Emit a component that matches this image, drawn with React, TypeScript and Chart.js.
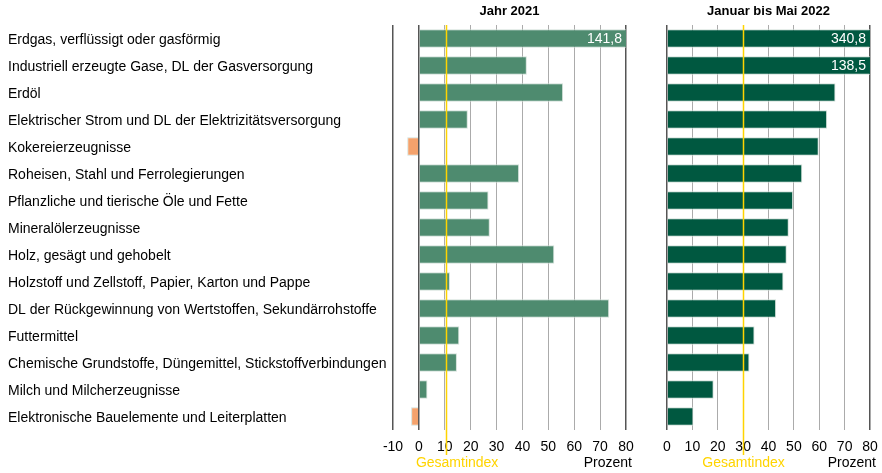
import React, { useEffect, useRef } from "react";
import { Chart, registerables } from "chart.js";

Chart.register(...registerables);

const categories: string[] = [
  "Erdgas, verflüssigt oder gasförmig",
  "Industriell erzeugte Gase, DL der Gasversorgung",
  "Erdöl",
  "Elektrischer Strom und DL der Elektrizitätsversorgung",
  "Kokereierzeugnisse",
  "Roheisen, Stahl und Ferrolegierungen",
  "Pflanzliche und tierische Öle und Fette",
  "Mineralölerzeugnisse",
  "Holz, gesägt und gehobelt",
  "Holzstoff und Zellstoff, Papier, Karton und Pappe",
  "DL der Rückgewinnung von Wertstoffen, Sekundärrohstoffe",
  "Futtermittel",
  "Chemische Grundstoffe, Düngemittel, Stickstoffverbindungen",
  "Milch und Milcherzeugnisse",
  "Elektronische Bauelemente und Leiterplatten",
];

const values2021: number[] = [141.8, 41.7, 55.7, 18.9, -4.5, 38.7, 26.9, 27.4, 52.3, 12.0, 73.5, 15.6, 14.7, 3.3, -3.0];
const values2022: number[] = [340.8, 138.5, 66.4, 63.1, 59.8, 53.3, 49.7, 48.0, 47.2, 45.9, 43.0, 34.5, 32.5, 18.4, 10.4];

const gesamt2021 = 10.4;
const gesamt2022 = 29.8;

const title2021 = "Jahr 2021";
const title2022 = "Januar bis Mai 2022";
const gesamtLabel = "Gesamtindex";
const unitLabel = "Prozent";

const left2021 = -10;
const max2021 = 80;
const left2022 = 0;
const max2022 = 80;
const tickStep = 10;

const FONT = '"Liberation Sans", Arial, sans-serif';
const YELLOW = "#FFD400";

function fmt(v: number): string {
  return v.toFixed(1).replace(".", ",");
}

function makeOverlay(id: string, title: string, gesamt: number, max: number, leftLabelMode: boolean) {
  return {
    id,
    afterDatasetsDraw(chart: any) {
      const ctx = chart.ctx;
      const area = chart.chartArea;
      const xs = chart.scales.x;
      ctx.save();
      const gx = Math.round(xs.getPixelForValue(gesamt)) + 0.5;
      ctx.strokeStyle = YELLOW;
      ctx.lineWidth = 1.5;
      ctx.beginPath();
      ctx.moveTo(gx, area.top);
      ctx.lineTo(gx, area.bottom + 25);
      ctx.stroke();
      ctx.fillStyle = "#000";
      ctx.font = "bold 13px " + FONT;
      ctx.textAlign = "center";
      ctx.textBaseline = "middle";
      ctx.fillText(title, (area.left + area.right) / 2, 11);
      const meta = chart.getDatasetMeta(0);
      const data = chart.data.datasets[0].data as number[];
      ctx.font = "14px " + FONT;
      ctx.textAlign = "right";
      ctx.fillStyle = "#fff";
      data.forEach((v, i) => {
        if (v > max) {
          ctx.fillText(fmt(v), area.right - 4, meta.data[i].y + 1);
        }
      });
      ctx.font = "14px " + FONT;
      ctx.fillStyle = YELLOW;
      if (leftLabelMode) {
        ctx.textAlign = "left";
        ctx.fillText(gesamtLabel, xs.getPixelForValue(0) - 3, 463);
      } else {
        ctx.textAlign = "center";
        ctx.fillText(gesamtLabel, gx, 463);
      }
      ctx.fillStyle = "#000";
      ctx.textAlign = "right";
      ctx.fillText(unitLabel, area.right + 6, 463);
      ctx.restore();
    },
  };
}

function buildConfig(
  values: number[],
  color: string,
  min: number,
  max: number,
  showLabels: boolean,
  padding: any,
  overlay: any
): any {
  return {
    type: "bar",
    data: {
      labels: categories,
      datasets: [
        {
          data: values,
          backgroundColor: values.map((v) => (v < 0 ? "#F4A26C" : color)),
          borderColor: "rgba(205,220,212,0.9)",
          borderWidth: 1,
          barPercentage: 0.69,
          categoryPercentage: 1,
        },
      ],
    },
    options: {
      indexAxis: "y",
      animation: false,
      responsive: false,
      maintainAspectRatio: false,
      layout: { padding },
      plugins: { legend: { display: false }, tooltip: { enabled: false }, title: { display: false } },
      scales: {
        x: {
          type: "linear",
          min,
          max,
          border: { display: false },
          grid: {
            drawTicks: false,
            color: (c: any) => {
              const v = c.tick ? c.tick.value : 0;
              return v === min || v === max || v === 0 ? "#555555" : "#ababab";
            },
            lineWidth: (c: any) => {
              const v = c.tick ? c.tick.value : 0;
              return v === min || v === max || v === 0 ? 1.5 : 1;
            },
          },
          ticks: {
            stepSize: tickStep,
            color: "#000",
            padding: 9,
            font: { size: 14, family: FONT },
            maxRotation: 0,
            autoSkip: false,
          },
          afterFit: (s: any) => {
            s.height = 43;
            s.paddingLeft = 0;
            s.paddingRight = 0;
          },
        },
        y: {
          display: showLabels,
          border: { display: false },
          grid: { display: false, drawTicks: false },
          ticks: {
            crossAlign: "far",
            color: "#000",
            font: { size: 14, family: FONT },
            padding: 0,
            labelOffset: 2,
            autoSkip: false,
          },
          afterFit: (s: any) => {
            if (showLabels) s.width = 385;
            s.paddingTop = 0;
            s.paddingBottom = 0;
          },
        },
      },
    },
    plugins: [overlay],
  };
}

export default function App() {
  const leftRef = useRef<HTMLCanvasElement | null>(null);
  const rightRef = useRef<HTMLCanvasElement | null>(null);

  useEffect(() => {
    Chart.defaults.font.family = FONT;
    const c1 = new Chart(
      leftRef.current as HTMLCanvasElement,
      buildConfig(values2021, "#4E8B6F", left2021, max2021, true, { left: 8, right: 14, top: 25, bottom: 0 }, makeOverlay("overlayLeft", title2021, gesamt2021, max2021, true))
    );
    const c2 = new Chart(
      rightRef.current as HTMLCanvasElement,
      buildConfig(values2022, "#005840", left2022, max2022, false, { left: 27, right: 12, top: 25, bottom: 0 }, makeOverlay("overlayRight", title2022, gesamt2022, max2022, false))
    );
    return () => {
      c1.destroy();
      c2.destroy();
    };
  }, []);

  return (
    <div style={{ position: "absolute", left: 0, top: 0, width: 882, height: 473, background: "#fff" }}>
      <canvas ref={leftRef} width={640} height={473} style={{ position: "absolute", left: 0, top: 0, width: 640, height: 473 }} />
      <canvas ref={rightRef} width={242} height={473} style={{ position: "absolute", left: 640, top: 0, width: 242, height: 473 }} />
    </div>
  );
}
